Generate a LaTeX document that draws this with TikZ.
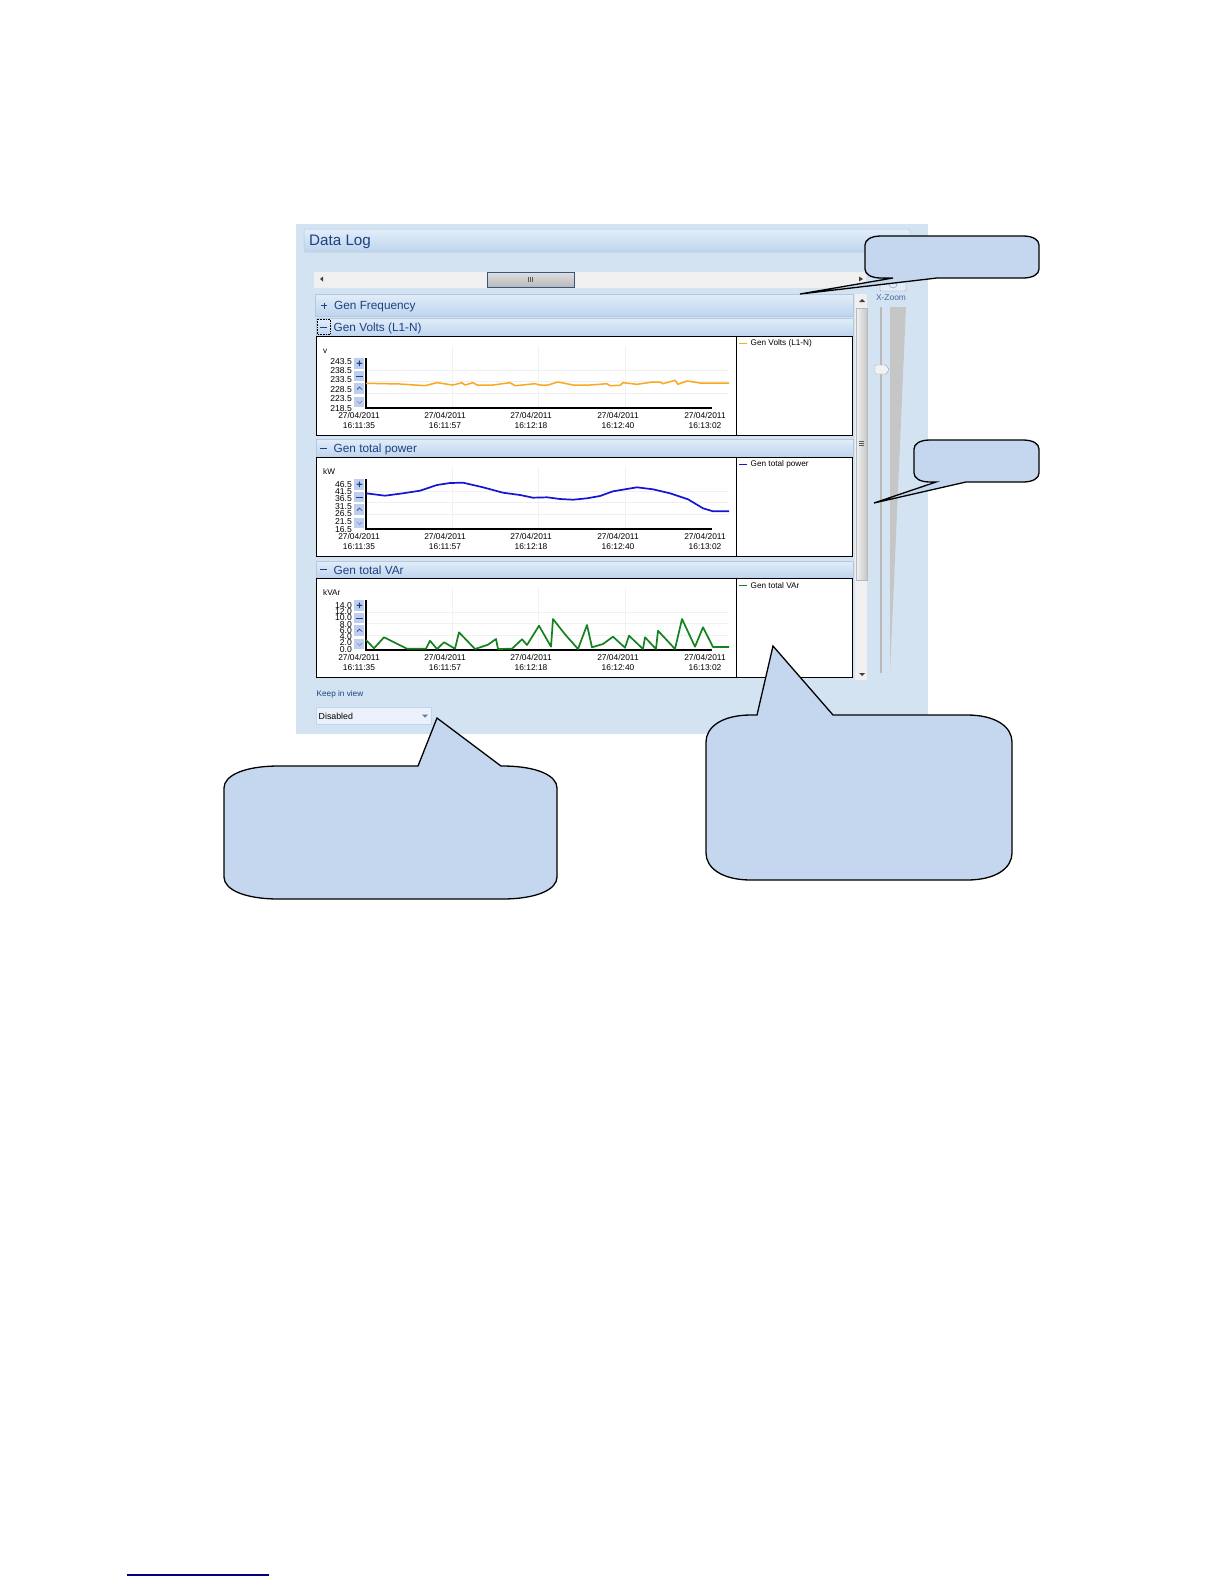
\documentclass[tikz,border=0pt]{standalone}
\usepackage{fontspec}
\setmainfont{Liberation Sans}
\definecolor{panelbg}{RGB}{212,227,242}
\definecolor{bandtop}{RGB}{226,237,249}
\definecolor{bandbot}{RGB}{190,213,238}
\definecolor{titleblue}{RGB}{28,66,130}
\definecolor{calloutbg}{RGB}{197,215,238}
\definecolor{btnblue}{RGB}{190,206,240}
\definecolor{voltsline}{RGB}{250,168,30}
\definecolor{powerline}{RGB}{20,20,215}
\definecolor{varline}{RGB}{20,130,30}
\tikzset{
	bandbox/.style={draw=bandbot!85!gray,line width=0.5pt,top color=bandtop,bottom color=bandbot},
	bandtext/.style={anchor=west,inner sep=0pt,text=titleblue,font=\fontsize{11.8}{13}\selectfont},
	datetext/.style={inner sep=0pt,align=center,font=\fontsize{8.4}{9.2}\selectfont},
	ticktext/.style={anchor=east,inner sep=0pt,font=\fontsize{8.6}{9}\selectfont},
	smalltext/.style={anchor=west,inner sep=0pt,font=\fontsize{8.2}{9}\selectfont},
	btntext/.style={inner sep=0pt,text=titleblue,font=\bfseries\fontsize{11}{11}\selectfont},
	pics/callout/.style args={#1:#2:#3:#4:#5:#6:#7}{
		code={
			% #1,#2 corner, #3,#4 size, #5 tip, #6,#7 pointer foot x on the top edge
			\draw[fill=calloutbg,draw=black,line width=1.3pt,line join=miter,pic actions]
				(#1+\rx,#2) -- (#6,#2) -- (#5) -- (#7,#2) -- (#1+#3-\rx,#2)
				.. controls (#1+#3-0.35*\rx,#2) and (#1+#3,#2+0.45*\ry) .. (#1+#3,#2+\ry)
				-- (#1+#3,#2+#4-\ry)
				.. controls (#1+#3,#2+#4-0.45*\ry) and (#1+#3-0.35*\rx,#2+#4) .. (#1+#3-\rx,#2+#4)
				-- (#1+\rx,#2+#4)
				.. controls (#1+0.35*\rx,#2+#4) and (#1,#2+#4-0.45*\ry) .. (#1,#2+#4-\ry)
				-- (#1,#2+\ry)
				.. controls (#1,#2+0.45*\ry) and (#1+0.35*\rx,#2) .. (#1+\rx,#2) -- cycle;
		}
	},
	pics/calloutlow/.style args={#1:#2:#3:#4:#5:#6:#7}{
		code={
			% same, pointer foot on the lower edge
			\draw[fill=calloutbg,draw=black,line width=1.3pt,line join=miter,pic actions]
				(#1+\rx,#2) -- (#1+#3-\rx,#2)
				.. controls (#1+#3-0.35*\rx,#2) and (#1+#3,#2+0.45*\ry) .. (#1+#3,#2+\ry)
				-- (#1+#3,#2+#4-\ry)
				.. controls (#1+#3,#2+#4-0.45*\ry) and (#1+#3-0.35*\rx,#2+#4) .. (#1+#3-\rx,#2+#4)
				-- (#7,#2+#4) -- (#5) -- (#6,#2+#4) -- (#1+\rx,#2+#4)
				.. controls (#1+0.35*\rx,#2+#4) and (#1,#2+#4-0.45*\ry) .. (#1,#2+#4-\ry)
				-- (#1,#2+\ry)
				.. controls (#1,#2+0.45*\ry) and (#1+0.35*\rx,#2) .. (#1+\rx,#2) -- cycle;
		}
	}
}

\begin{document}
\begin{tikzpicture}[x=1pt,y=-1pt]
	\useasboundingbox (0,0) rectangle (1224,1584);
	\fill[white] (0,0) rectangle (1224,1584);
	
	%% window
	\fill[panelbg] (296,224) rectangle (928,734);
	\draw[bandbox,rounded corners=1.5pt] (304,229) rectangle (910,252);
	\node[anchor=west,inner sep=0pt,text=titleblue,font=\fontsize{15.2}{16}\selectfont] (logtitle) at (309,242) {Data Log};
	
	%% upper scroll bar
	\fill[gray!12] (314,272) rectangle (866,288);
	\draw[draw=titleblue!70!gray,top color=gray!25,bottom color=gray!55] (487,272) rectangle (574,287);
	\foreach \x in {528,530,532}{
		\draw[gray!70!black,very thin] (\x,277) -- (\x,282);
	}
	\fill[black!75] (323,276.5) -- (323,281.5) -- (320,279) -- cycle;
	\fill[black!75] (859,276.5) -- (859,281.5) -- (863,279) -- cycle;
	
	%% title bands
	\draw[bandbox] (315,294) rectangle (853,316);
	\draw[bandbox] (316,318) rectangle (853,336);
	\draw[bandbox] (316,439) rectangle (853,457);
	\draw[bandbox] (316,561) rectangle (853,578);
	\node[bandtext] (freqtitle) at (334,306.5) {Gen Frequency};
	\node[bandtext] (voltstitle) at (333.5,328) {Gen Volts (L1-N)};
	\node[bandtext] (powertitle) at (333.5,449) {Gen total power};
	\node[bandtext] (vartitle) at (333.5,570) {Gen total VAr};
	\draw[titleblue,line width=0.8pt] (321,305.5) -- (327,305.5) (324,302.5) -- (324,308.5);
	\draw[titleblue,line width=0.8pt] (320,327) -- (327,327);
	\draw[titleblue,line width=0.8pt] (320,448) -- (327,448);
	\draw[titleblue,line width=0.8pt] (320,569) -- (327,569);
	\draw[black,densely dotted,line width=0.6pt] (317,319) rectangle (330,334);
	
	%% chart frames
	\foreach \n/\off in {1/0,2/121,3/242}{
		\begin{scope}[shift={(0,\off)}]
			\draw[fill=white,draw=black,line width=1pt] (316,336) rectangle (852,435);
			\draw[black,line width=1pt] (736,336) -- (736,435);
			% grid
			\foreach \x in {452,538,625}{
				\draw[gray!10] (\x,346) -- (\x,408);
			}
			\foreach \y in {370,381,393}{
				\draw[gray!12] (366,\y) -- (729,\y);
			}
			\draw[black,line width=1.6pt] (366,358) -- (366,408) -- (712,408);
			% zoom buttons
			\foreach \y/\h in {358/11,371/10,383/11,397/10}{
				\fill[btnblue] (354,\y) rectangle (364,\y+\h);
			}
			\node[btntext] (plus\n) at (359.5,364) {+};
			\draw[titleblue,line width=1pt] (356,376) -- (363,376);
			\draw[titleblue,line width=0.7pt] (357,389.5) -- (359.5,387) -- (362,389.5);
			\draw[titleblue!60,line width=0.7pt] (357,401) -- (359.5,403.5) -- (362,401);
			% dates
			\node[datetext] (datea\n) at (359,420.5) {27/04/2011\\16:11:35};
			\node[datetext] (dateb\n) at (445,420.5) {27/04/2011\\16:11:57};
			\node[datetext] (datec\n) at (531,420.5) {27/04/2011\\16:12:18};
			\node[datetext] (dated\n) at (618,420.5) {27/04/2011\\16:12:40};
			\node[datetext] (datee\n) at (705,420.5) {27/04/2011\\16:13:02};
		\end{scope}
	}
	
	%% vertical scale labels
	\foreach \y/\t in {362/243.5,371/238.5,380/233.5,390/228.5,399/223.5,409/218.5}{
		\node[ticktext] (voltsy\t) at (352,\y) {\t};
	}
	\foreach \y/\t in {485/46.5,492/41.5,499/36.5,507/31.5,514/26.5,522/21.5,530/16.5}{
		\node[ticktext] (powery\t) at (352,\y) {\t};
	}
	\foreach \y/\t in {606/14.0,612/12.0,618/10.0,625/8.0,631/6.0,637/4.0,643/2.0,650/0.0}{
		\node[ticktext] (vary\t) at (352,\y) {\t};
	}
	\node[smalltext] (voltsunit) at (323,351) {v};
	\node[smalltext] (powerunit) at (323,472) {kW};
	\node[smalltext] (varunit) at (323,593) {kVAr};
	
	%% traces
	\draw[voltsline,line width=1.5pt,line join=round] (366,383.3) -- (400,384) -- (425,385.7) -- (437,382.7) -- (453,385) -- (462,382.7) -- (465,385) -- (473,382.7) -- (477,385) -- (493,385) -- (510,382.7) -- (515,385.7) -- (535,383.7) -- (540,385) -- (548,385) -- (558,382) -- (573,385) -- (590,385) -- (607,383.7) -- (610,385.7) -- (620,385.3) -- (623,382.7) -- (637,384.3) -- (653,382) -- (660,382) -- (663,383.7) -- (675,380.3) -- (678,384.3) -- (687,381) -- (700,383) -- (729,383);
	\draw[powerline,line width=1.7pt,line join=round] (366,493.3) -- (385,495.7) -- (403,493.3) -- (420,490.7) -- (437,485) -- (450,483) -- (463,482.7) -- (483,487.3) -- (503,492.7) -- (520,495) -- (533,497.7) -- (547,497.3) -- (560,499) -- (573,499.7) -- (587,498.3) -- (600,496) -- (613,491.3) -- (637,487.3) -- (653,489.3) -- (670,493.3) -- (688,499.3) -- (703,508.3) -- (713,511.3) -- (729,511.3);
	\draw[varline,line width=1.7pt,line join=round] (366,640) -- (374,648.3) -- (384,637.3) -- (407,648.7) -- (426,648.7) -- (430,640.7) -- (437,649) -- (444,642.3) -- (455,648.7) -- (459,632.3) -- (475,649) -- (488,644.7) -- (496,639) -- (498,649) -- (512,648.7) -- (522,639.3) -- (527,645) -- (539,625.7) -- (551,646.7) -- (553,619) -- (565,634.3) -- (578,649) -- (587,625) -- (592,647.3) -- (603,644) -- (613,636.7) -- (625,647.7) -- (629,635.7) -- (643,649) -- (645,637.3) -- (656,649) -- (658,630.7) -- (675,649) -- (682,619) -- (695,646.7) -- (703,627.3) -- (713,647) -- (729,647);
	
	%% legends
	\draw[voltsline,line width=1pt] (739,343) -- (747,343);
	\draw[powerline,line width=1pt] (739,464) -- (747,464);
	\draw[varline,line width=1pt] (739,585) -- (747,585);
	\node[smalltext] (voltslegend) at (750.5,343.5) {Gen Volts (L1-N)};
	\node[smalltext] (powerlegend) at (750.5,464.5) {Gen total power};
	\node[smalltext] (varlegend) at (750.5,585.5) {Gen total VAr};
	
	%% right scroll bar and zoom slider
	\fill[gray!12] (855,294) rectangle (867,680);
	\draw[draw=gray!55,left color=gray!10,right color=gray!45] (856,308) rectangle (867,580);
	\foreach \y in {441,443,445}{
		\draw[gray!70!black,very thin] (859,\y) -- (864,\y);
	}
	\fill[black!75] (859,302) -- (865,302) -- (862,299) -- cycle;
	\fill[black!75] (859,673) -- (865,673) -- (862,676) -- cycle;
	\draw[draw=titleblue!50,fill=bandtop,rounded corners=1pt] (880,278) rectangle (906,291);
	\draw[titleblue!60] (893,284) circle (4);
	\node[inner sep=0pt,text=titleblue!80,font=\fontsize{8.4}{9}\selectfont] (zoomlabel) at (891,297.5) {X-Zoom};
	\draw[gray!55,line width=1.6pt] (881,307) -- (881,673);
	\fill[gray!45] (890,307) -- (906,307) -- (890,673) -- cycle;
	\draw[gray!70,fill=gray!10,rounded corners=0.8pt] (875,365) -- (886,365) -- (889,369.5) -- (886,374) -- (875,374) -- cycle;
	
	%% keep in view
	\node[smalltext,text=titleblue] (keeplabel) at (316.5,694) {Keep in view};
	\draw[draw=bandbot,fill=bandtop!70!white] (316,707) rectangle (431,724);
	\node[smalltext,font=\fontsize{8.8}{9}\selectfont] (disabledbox) at (318.5,716) {Disabled};
	\fill[titleblue!70] (422,714.5) -- (428,714.5) -- (425,717.5) -- cycle;
	
	%% callouts
	\def\rx{16}\def\ry{9}
	\path pic{calloutlow={865:236:174:42:800,294:893:937}};
	\path pic{calloutlow={914:440:125:42:874,503:936:966}};
	\def\rx{45}\def\ry{27}
	\path pic{callout={706:715:306:165:773,646:757:833}};
	\def\rx{55}\def\ry{22}
	\path pic{callout={224:766:333:133:437,718:418:501}};
	
	%% foot rule
	\draw[blue!50!black,line width=1.2pt] (127,1575) -- (269,1575);
\end{tikzpicture}
\end{document}
